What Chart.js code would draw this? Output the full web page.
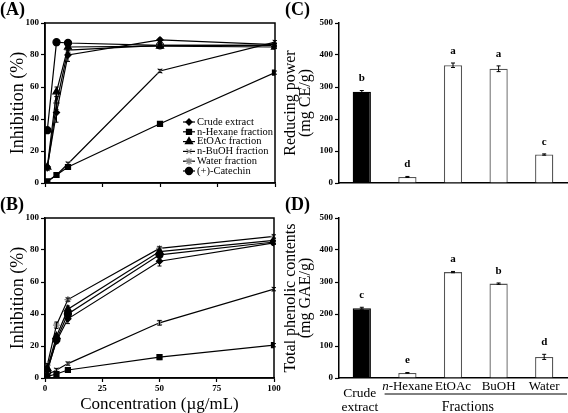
<!DOCTYPE html>
<html>
<head>
<meta charset="utf-8">
<script src="https://cdn.jsdelivr.net/npm/chart.js@4.4.0/dist/chart.umd.min.js"></script>
<style>
  body { margin: 0; background: #fff; width: 568px; height: 413px; position: relative; overflow: hidden; font-family: 'Liberation Serif', serif; }
  .box { position: absolute; }
  .tag { position: absolute; font-weight: bold; font-size: 18px; line-height: 18px; color: #000; }
</style>
</head>
<body>
<div class="box" style="left:0;top:0;width:284px;height:195px"><canvas id="chartA"></canvas></div>
<div class="box" style="left:0;top:195px;width:284px;height:218px"><canvas id="chartB"></canvas></div>
<div class="box" style="left:284px;top:0;width:284px;height:195px"><canvas id="chartC"></canvas></div>
<div class="box" style="left:284px;top:195px;width:284px;height:218px"><canvas id="chartD"></canvas></div>
<div class="tag" style="left:0;top:0">(A)</div>
<div class="tag" style="left:0;top:195px">(B)</div>
<div class="tag" style="left:285px;top:0">(C)</div>
<div class="tag" style="left:285px;top:195px">(D)</div>
<script>
const SERIF = "'Liberation Serif', 'Times New Roman', serif";

// concentrations (ug/mL)
const concentrations = [1, 5, 10, 50, 100];
const concTicks = [0, 25, 50, 75, 100];
const seriesNames = ['Crude extract', 'n-Hexane fraction', 'EtOAc fraction', 'n-BuOH fraction', 'Water fraction', '(+)-Catechin'];

// (A) inhibition %
const crudeA = [10, 44, 80, 89.5, 86.5];
const hexaneA = [1, 5, 10, 37, 69];
const etoacA = [10, 57, 85, 85.5, 85];
const buohA = [1, 5, 12, 70, 88];
const waterA = [9, 50, 83, 86, 86];
const catechinA = [33, 88, 87.5, 86, 86];
const crudeAErr = [1, 6, 4, 1, 1];
const hexaneAErr = [0.5, 1, 1, 1, 1];
const etoacAErr = [1, 3, 2, 1, 1];
const buohAErr = [0.5, 1, 1, 1, 1];
const waterAErr = [1, 4, 3, 1, 1];
const catechinAErr = [1, 1, 1, 1, 1];

// (B) inhibition %
const crudeB = [5, 23, 37, 73, 84.5];
const hexaneB = [1, 2.5, 5, 13, 20.5];
const etoacB = [6, 26, 43, 79, 86];
const buohB = [2, 5, 9, 34.5, 55.5];
const waterB = [8, 33, 49, 81, 88.5];
const catechinB = [4, 24, 40, 77, 85];
const crudeBErr = [1, 1.5, 3, 3, 1];
const hexaneBErr = [0.5, 0.5, 1, 1.5, 1];
const etoacBErr = [1, 1.5, 2, 1, 1];
const buohBErr = [0.5, 1, 1, 1.5, 1];
const waterBErr = [1, 2, 1, 1, 1];
const catechinBErr = [1, 1, 2, 1, 1];

// (C) and (D) bars
const barCategories = ['Crude extract', 'n-Hexane', 'EtOAc', 'BuOH', 'Water'];
const reducingPower = [285, 19, 368, 357, 89];
const reducingPowerErr = [4, 1.5, 7, 9, 2];
const reducingLetters = ['b', 'd', 'a', 'a', 'c'];
const phenolic = [218, 16, 331, 295, 66];
const phenolicErr = [3, 1, 2, 2, 8];
const phenolicLetters = ['c', 'e', 'a', 'b', 'd'];

const markerStyles = [
  { pointStyle: 'rectRot', radius: 3, color: '#000' },
  { pointStyle: 'rect', radius: 3.5, color: '#000' },
  { pointStyle: 'triangle', radius: 4, color: '#000' },
  { pointStyle: 'crossRot', radius: 3.5, color: '#8a8a8a' },
  { pointStyle: 'star', radius: 3.5, color: '#8a8a8a' },
  { pointStyle: 'circle', radius: 3.5, color: '#000' }
];

function lineSets(values, errs) {
  return values.map((vals, k) => ({
    label: seriesNames[k],
    data: vals.map((v, i) => ({ x: concentrations[i], y: v })),
    errors: errs[k],
    borderColor: '#000',
    borderWidth: 1.2,
    pointStyle: markerStyles[k].pointStyle,
    pointRadius: markerStyles[k].radius,
    pointBackgroundColor: markerStyles[k].color,
    pointBorderColor: markerStyles[k].color,
    pointBorderWidth: 1.3,
    fill: false,
    tension: 0
  }));
}

// error bars + letters above bars
const errorBarPlugin = {
  id: 'errorBars',
  afterDatasetsDraw(chart) {
    const ctx = chart.ctx;
    const y = chart.scales.y;
    ctx.save();
    chart.data.datasets.forEach((ds, di) => {
      const meta = chart.getDatasetMeta(di);
      if (!ds.errors) return;
      meta.data.forEach((el, i) => {
        const raw = ds.data[i];
        const v = typeof raw === 'object' ? raw.y : raw;
        const e = ds.errors[i];
        const top = y.getPixelForValue(v + e);
        const bot = y.getPixelForValue(v - e);
        ctx.strokeStyle = '#000';
        ctx.lineWidth = 1;
        ctx.beginPath();
        ctx.moveTo(el.x, top); ctx.lineTo(el.x, bot);
        ctx.moveTo(el.x - 2, top); ctx.lineTo(el.x + 2, top);
        ctx.moveTo(el.x - 2, bot); ctx.lineTo(el.x + 2, bot);
        ctx.stroke();
        if (ds.letters) {
          ctx.fillStyle = '#000';
          ctx.font = 'bold 11px ' + SERIF;
          ctx.textAlign = 'center';
          ctx.textBaseline = 'middle';
          ctx.fillText(ds.letters[i], el.x, top - 12);
        }
      });
    });
    ctx.restore();
  }
};

// box frame round the plot area
const framePlugin = {
  id: 'frame',
  afterDraw(chart, args, opts) {
    if (!opts.show) return;
    const a = chart.chartArea;
    const ctx = chart.ctx;
    ctx.save();
    ctx.strokeStyle = '#000';
    ctx.lineWidth = 1.5;
    ctx.strokeRect(a.left, a.top, a.right - a.left, a.bottom - a.top);
    ctx.restore();
  }
};

// legend inside panel A
const insideLegend = {
  id: 'insideLegend',
  afterDraw(chart, args, opts) {
    if (!opts.show) return;
    const ctx = chart.ctx;
    const a = chart.chartArea;
    const x0 = a.right - 92;
    let yy = a.bottom - 61;
    ctx.save();
    chart.data.datasets.forEach((ds, k) => {
      ctx.strokeStyle = '#000';
      ctx.lineWidth = 1.2;
      ctx.beginPath();
      ctx.moveTo(x0, yy); ctx.lineTo(x0 + 12, yy);
      ctx.stroke();
      ctx.fillStyle = ds.pointBackgroundColor;
      ctx.strokeStyle = ds.pointBorderColor;
      ctx.lineWidth = 1.3;
      Chart.helpers.drawPoint(ctx, { pointStyle: ds.pointStyle, radius: ds.pointRadius, rotation: 0, borderWidth: 1.3 }, x0 + 6, yy);
      ctx.fillStyle = '#000';
      ctx.font = '10.5px ' + SERIF;
      ctx.textAlign = 'left';
      ctx.textBaseline = 'middle';
      ctx.fillText(ds.label, x0 + 14, yy);
      yy += 9.8;
    });
    ctx.restore();
  }
};

// category labels under panel D
const fractionLabels = {
  id: 'fractionLabels',
  afterDraw(chart, args, opts) {
    if (!opts.show) return;
    const ctx = chart.ctx;
    const xs = chart.scales.x;
    const b = chart.chartArea.bottom;
    ctx.save();
    ctx.fillStyle = '#000';
    ctx.textBaseline = 'middle';
    ctx.textAlign = 'center';
    ctx.font = '13.5px ' + SERIF;
    const c0 = xs.getPixelForValue(0);
    ctx.fillText('Crude', c0 - 2, b + 15);
    ctx.fillText('extract', c0 - 2, b + 29);
    for (let i = 1; i < barCategories.length; i++) {
      const cx = xs.getPixelForValue(i);
      const name = barCategories[i];
      if (name.startsWith('n-')) {
        ctx.font = 'italic 13px ' + SERIF;
        const w1 = ctx.measureText('n').width;
        ctx.font = '13px ' + SERIF;
        const w2 = ctx.measureText(name.slice(1)).width;
        const start = cx - (w1 + w2) / 2;
        ctx.textAlign = 'left';
        ctx.font = 'italic 13px ' + SERIF;
        ctx.fillText('n', start, b + 9);
        ctx.font = '13px ' + SERIF;
        ctx.fillText(name.slice(1), start + w1, b + 9);
        ctx.textAlign = 'center';
      } else {
        ctx.font = '13px ' + SERIF;
        ctx.fillText(name, cx, b + 9);
      }
    }
    const l0 = (xs.getPixelForValue(0) + xs.getPixelForValue(1)) / 2;
    const l1 = chart.chartArea.right;
    ctx.strokeStyle = '#000';
    ctx.lineWidth = 1;
    ctx.beginPath();
    ctx.moveTo(l0, b + 16); ctx.lineTo(l1, b + 16);
    ctx.stroke();
    ctx.font = '14px ' + SERIF;
    ctx.fillText('Fractions', (l0 + l1) / 2 - 8, b + 29);
    ctx.restore();
  }
};

Chart.register(errorBarPlugin, framePlugin, insideLegend, fractionLabels);

function yAxis(max, step, title, width, lines) {
  return {
    min: 0, max: max,
    ticks: { stepSize: step, color: '#000', padding: 2, font: { family: SERIF, size: 9, weight: 'bold' } },
    grid: { display: true, drawOnChartArea: false, tickLength: 4, tickColor: '#000', tickWidth: 1.2 },
    border: { color: '#000', width: 1.5 },
    title: {
      display: true, text: title, color: '#000',
      font: { family: SERIF, size: lines > 1 ? 16 : 18, lineHeight: lines > 1 ? 0.9 : 1 },
      padding: { top: lines > 1 ? 0 : 9, bottom: 0 }
    },
    afterFit: s => { s.width = width; }
  };
}

function lineChart(id, values, errs, showTicks, withLegend) {
  new Chart(document.getElementById(id), {
    type: 'line',
    data: { datasets: lineSets(values, errs) },
    options: {
      responsive: true, maintainAspectRatio: false, animation: false,
      layout: { padding: { left: 0, top: 23, right: showTicks ? 10 : 9, bottom: 0 } },
      scales: {
        x: {
          type: 'linear', min: 0, max: 100,
          afterBuildTicks: s => { s.ticks = concTicks.map(v => ({ value: v })); },
          ticks: { display: showTicks, color: '#000', padding: 1, font: { family: SERIF, size: 9, weight: 'bold' } },
          grid: { display: true, drawOnChartArea: false, tickLength: 4, tickColor: '#000', tickWidth: 1.2 },
          border: { color: '#000', width: 1.5 },
          title: { display: showTicks, text: 'Concentration (\u00b5g/mL)', color: '#000', font: { family: SERIF, size: 17, lineHeight: 1 }, padding: { top: 0, bottom: 0 } },
          afterFit: s => { s.height = showTicks ? 35 : 12; }
        },
        y: yAxis(100, 20, 'Inhibition (%)', 45, 1)
      },
      plugins: {
        legend: { display: false },
        tooltip: { enabled: false },
        frame: { show: true },
        insideLegend: { show: withLegend },
        fractionLabels: { show: false }
      }
    }
  });
}

function barChart(id, values, errs, letters, title, withLabels) {
  new Chart(document.getElementById(id), {
    type: 'bar',
    data: {
      labels: barCategories,
      datasets: [{
        data: values,
        errors: errs,
        letters: letters,
        backgroundColor: values.map((v, i) => i === 0 ? '#000' : '#fff'),
        borderColor: values.map((v, i) => i === 0 ? '#000' : '#555'),
        borderWidth: 1.3,
        barPercentage: 0.4,
        categoryPercentage: 1
      }]
    },
    options: {
      responsive: true, maintainAspectRatio: false, animation: false,
      layout: { padding: { left: 0, top: 23, right: 1, bottom: 0 } },
      scales: {
        x: {
          ticks: { display: false },
          grid: { display: false },
          border: { color: '#000', width: 1.5 },
          afterFit: s => { s.height = withLabels ? 35 : 12; }
        },
        y: yAxis(500, 100, title, 55, 2)
      },
      plugins: {
        legend: { display: false },
        tooltip: { enabled: false },
        frame: { show: false },
        insideLegend: { show: false },
        fractionLabels: { show: withLabels }
      }
    }
  });
}

lineChart('chartA', [crudeA, hexaneA, etoacA, buohA, waterA, catechinA],
  [crudeAErr, hexaneAErr, etoacAErr, buohAErr, waterAErr, catechinAErr], false, true);
lineChart('chartB', [crudeB, hexaneB, etoacB, buohB, waterB, catechinB],
  [crudeBErr, hexaneBErr, etoacBErr, buohBErr, waterBErr, catechinBErr], true, false);
barChart('chartC', reducingPower, reducingPowerErr, reducingLetters, ['Reducing power', '(mg CE/g)'], false);
barChart('chartD', phenolic, phenolicErr, phenolicLetters, ['Total phenolic contents', '(mg GAE/g)'], true);
</script>
</body>
</html>
